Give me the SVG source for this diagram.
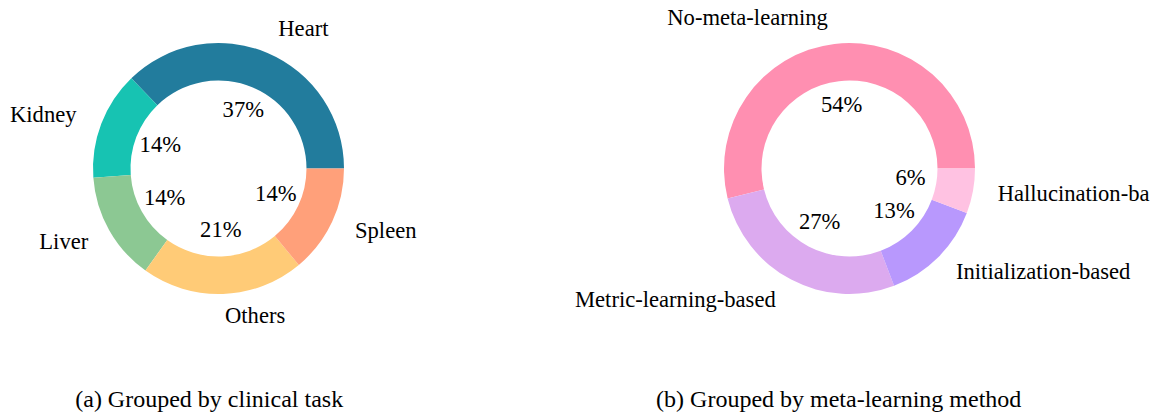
<svg xmlns="http://www.w3.org/2000/svg" width="1166" height="420" viewBox="0 0 1166 420">
<style>
text{font-family:"Liberation Serif","Times New Roman",serif;fill:#000}
.lb{font-size:22.6px}
.pc{font-size:22.6px;text-anchor:middle}
.cap{font-size:24px;text-anchor:middle}
</style>
<rect width="1166" height="420" fill="#fff"/>
<g id="chart-a">
<g id="heart"><path d="M344,168.5 A125.5,125.5 0 0 0 131.32,78.22 L157.37,105.2 A88,88 0 0 1 306.5,168.5 Z" fill="#227c9d"/><text class="lb" x="278.3" y="36">Heart</text><text class="pc" x="243.3" y="116.7">37%</text></g>
<g id="kidney"><path d="M131.32,78.22 A125.5,125.5 0 0 0 93.34,177.69 L130.74,174.95 A88,88 0 0 1 157.37,105.2 Z" fill="#17c3b2"/><text class="lb" x="10" y="121.7">Kidney</text><text class="pc" x="160.3" y="151.7">14%</text></g>
<g id="liver"><path d="M93.34,177.69 A125.5,125.5 0 0 0 145.44,270.54 L167.27,240.05 A88,88 0 0 1 130.74,174.95 Z" fill="#8cc893"/><text class="lb" x="39.3" y="249.3">Liver</text><text class="pc" x="164.7" y="205">14%</text></g>
<g id="others"><path d="M145.44,270.54 A125.5,125.5 0 0 0 298.83,264.92 L274.83,236.11 A88,88 0 0 1 167.27,240.05 Z" fill="#ffcb77"/><text class="lb" x="225" y="323.3">Others</text><text class="pc" x="220.8" y="236.7">21%</text></g>
<g id="spleen"><path d="M298.83,264.92 A125.5,125.5 0 0 0 344,168.5 L306.5,168.5 A88,88 0 0 1 274.83,236.11 Z" fill="#ffa07a"/><text class="lb" x="355" y="238.3">Spleen</text><text class="pc" x="275.8" y="200.7">14%</text></g>
<text class="cap" x="209.2" y="407">(a) Grouped by clinical task</text>
</g>
<g id="chart-b">
<g id="no-meta"><path d="M975,168.5 A125.5,125.5 0 1 0 727.62,198.44 L764.04,189.49 A88,88 0 1 1 937.5,168.5 Z" fill="#ff8fb1"/><text class="lb" x="667.3" y="25">No-meta-learning</text><text class="pc" x="841.7" y="112.3">54%</text></g>
<g id="metric"><path d="M727.62,198.44 A125.5,125.5 0 0 0 894.07,285.82 L880.75,250.77 A88,88 0 0 1 764.04,189.49 Z" fill="#dcaaef"/><text class="lb" x="575" y="306.7">Metric-learning-based</text><text class="pc" x="819.7" y="229.3">27%</text></g>
<g id="init"><path d="M894.07,285.82 A125.5,125.5 0 0 0 966.82,213.07 L931.77,199.75 A88,88 0 0 1 880.75,250.77 Z" fill="#b898fd"/><text class="lb" x="956" y="279.3">Initialization-based</text><text class="pc" x="894" y="218.3">13%</text></g>
<g id="halluc"><path d="M966.82,213.07 A125.5,125.5 0 0 0 975,168.5 L937.5,168.5 A88,88 0 0 1 931.77,199.75 Z" fill="#ffc2e2"/><text class="lb" x="997.7" y="201">Hallucination-ba</text><text class="pc" x="910.5" y="185">6%</text></g>
<text class="cap" x="838.7" y="407">(b) Grouped by meta-learning method</text>
</g>
<g id="connectors"/>
</svg>
